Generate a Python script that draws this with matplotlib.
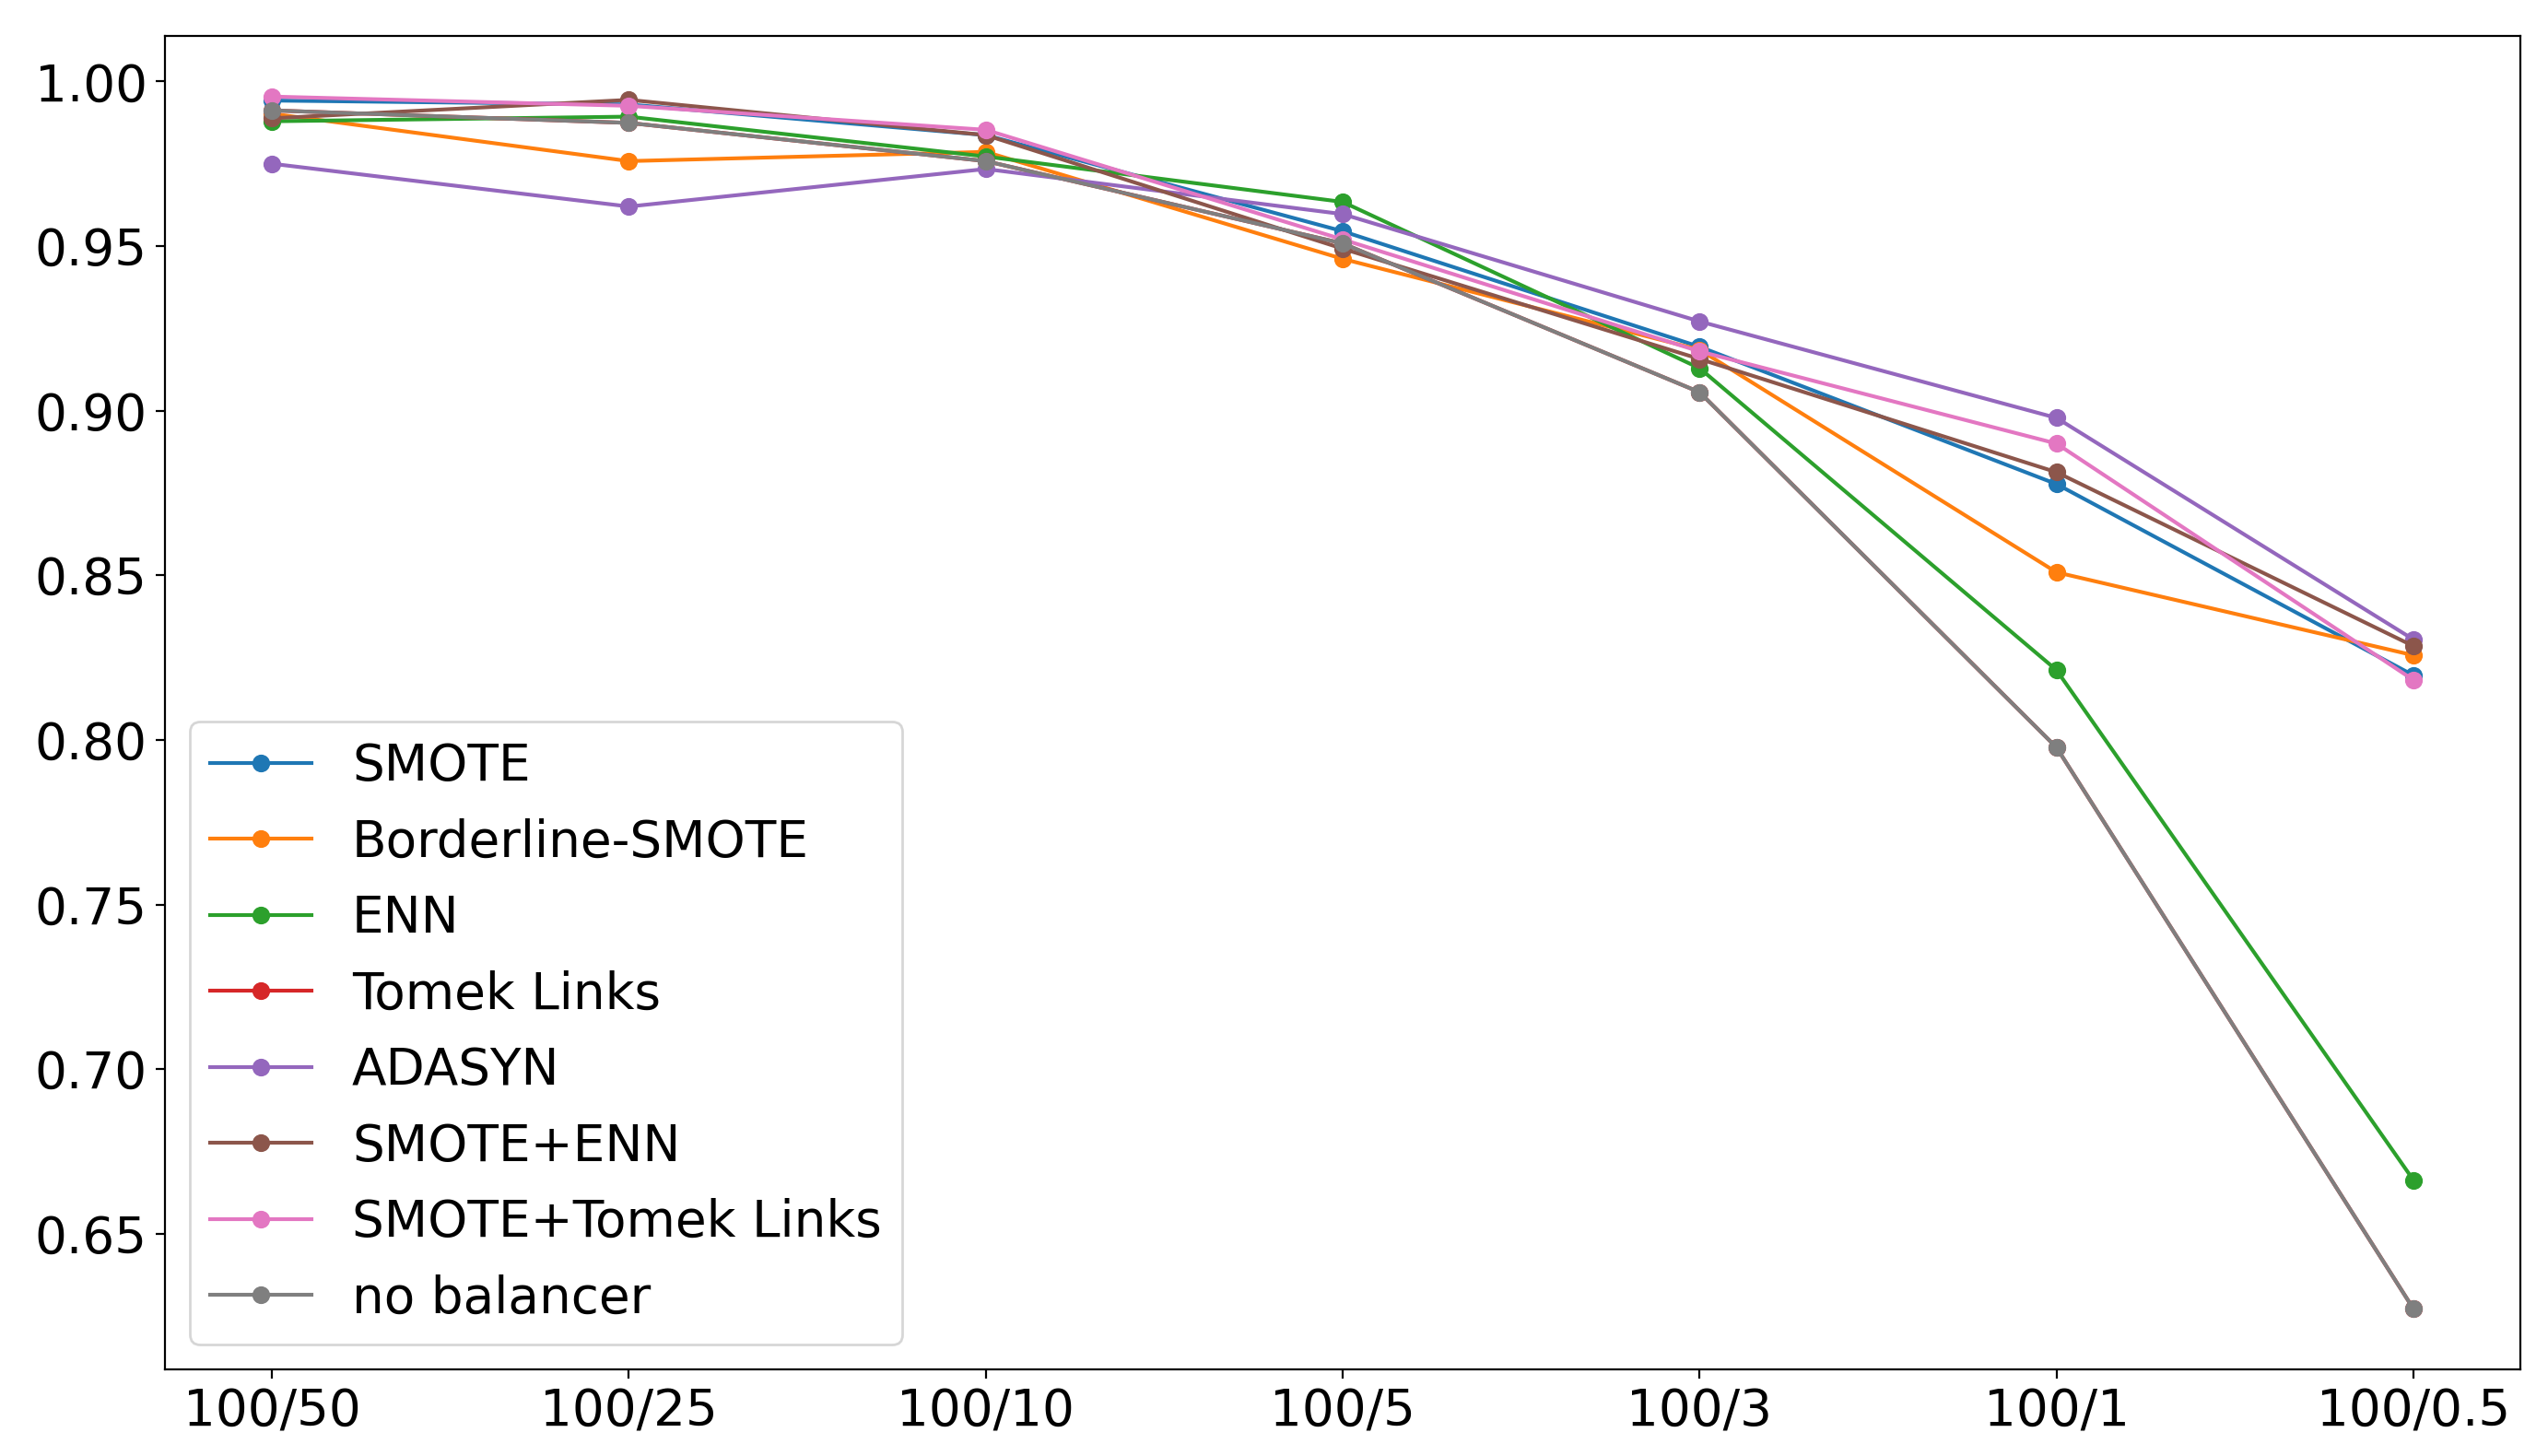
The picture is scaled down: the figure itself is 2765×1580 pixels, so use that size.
#------------------------------------------------------------#
# STEP 1: setup                                              #
#------------------------------------------------------------#

import matplotlib
matplotlib.use('Agg')
import matplotlib.pyplot as plt

ratios = ['100/50', '100/25', '100/10', '100/5', '100/3', '100/1', '100/0.5']

smote = [0.9942, 0.9930, 0.9837, 0.9545, 0.9194, 0.8777, 0.8196]
borderline_smote = [0.9902, 0.9758, 0.9786, 0.9461, 0.9185, 0.8509, 0.8257]
enn = [0.9879, 0.9893, 0.9772, 0.9634, 0.9129, 0.8212, 0.6663]
tomek_links = [0.9912, 0.9874, 0.9758, 0.9508, 0.9056, 0.7977, 0.6272]
adasyn = [0.9750, 0.9620, 0.9734, 0.9597, 0.9271, 0.8978, 0.8305]
smote_enn = [0.9888, 0.9944, 0.9837, 0.9492, 0.9157, 0.8813, 0.8285]
smote_tomek = [0.9954, 0.9926, 0.9853, 0.9520, 0.9180, 0.8900, 0.8182]
no_balancer = [0.9912, 0.9874, 0.9758, 0.9508, 0.9056, 0.7977, 0.6272]

series = [('SMOTE', smote),
          ('Borderline-SMOTE', borderline_smote),
          ('ENN', enn),
          ('Tomek Links', tomek_links),
          ('ADASYN', adasyn),
          ('SMOTE+ENN', smote_enn),
          ('SMOTE+Tomek Links', smote_tomek),
          ('no balancer', no_balancer)]

#------------------------------------------------------------#
# STEP 2: plot                                               #
#------------------------------------------------------------#

fig, ax = plt.subplots(figsize=(14, 8), dpi=197.5)
fig.subplots_adjust(left=0.0647, right=0.9892, bottom=0.0595, top=0.9753)

for label, values in series:
    ax.plot(ratios, values, marker='o', label=label)

ax.tick_params(axis='both', labelsize=20)
ax.legend(loc='lower left', fontsize=20, labelspacing=0.52)

fig.savefig('out.png', dpi=197.5)
